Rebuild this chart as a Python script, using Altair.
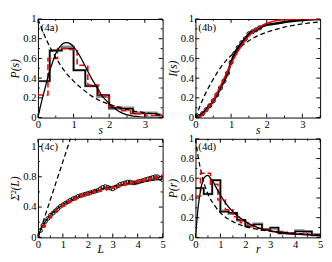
import altair as alt
import pandas as pd

W, H = 129, 102
SERIF = "Liberation Serif"
RED = "#ff0000"
GRAY = "#8c8c8c"

# ---------------- panel (4a): P(s) ----------------
a_curve_s = [0, 0.1, 0.2, 0.3, 0.4, 0.5, 0.6, 0.7, 0.8, 0.9, 1.0, 1.1, 1.2, 1.3, 1.4, 1.5,
             1.6, 1.7, 1.8, 1.9, 2.0, 2.2, 2.4, 2.6, 2.8, 3.0, 3.5]
a_curve_p = [0, 0.16, 0.30, 0.44, 0.55, 0.65, 0.71, 0.75, 0.76, 0.75, 0.72, 0.67, 0.61, 0.54,
             0.47, 0.40, 0.34, 0.28, 0.22, 0.18, 0.14, 0.08, 0.04, 0.02, 0.01, 0.004, 0.0]
a_pois_s = [0, 0.25, 0.5, 0.75, 1.0, 1.25, 1.5, 1.75, 2.0, 2.5, 3.0, 3.5]
a_pois_p = [1.0, 0.78, 0.61, 0.47, 0.37, 0.29, 0.22, 0.17, 0.135, 0.08, 0.05, 0.03]
a_hist_edges = [0, 0.33, 0.67, 1.0, 1.33, 1.67, 2.0, 2.33, 2.67, 3.0, 3.33, 3.5]
a_hist_black = [0.37, 0.68, 0.70, 0.48, 0.32, 0.23, 0.10, 0.09, 0.04, 0.04, 0.02]
a_hist_gray = [0.37, 0.68, 0.72, 0.48, 0.32, 0.21, 0.09, 0.10, 0.05, 0.05, 0.03]
a_red_edges = [0, 0.28, 0.55, 0.83, 1.1, 1.4, 1.7, 2.0, 2.3, 2.6, 3.0, 3.5]
a_hist_red = [0.23, 0.60, 0.70, 0.69, 0.53, 0.33, 0.22, 0.11, 0.07, 0.04, 0.02]

# ---------------- panel (4b): I(s) ----------------
b_curve_s = [0, 0.1, 0.2, 0.3, 0.4, 0.5, 0.6, 0.7, 0.8, 0.9, 1.0, 1.1, 1.2, 1.3, 1.4, 1.5,
             1.6, 1.7, 1.8, 1.9, 2.0, 2.2, 2.4, 2.6, 2.8, 3.0, 3.5]
b_curve_i = [0, 0.008, 0.031, 0.068, 0.118, 0.178, 0.246, 0.319, 0.395, 0.471, 0.544, 0.613,
             0.677, 0.735, 0.785, 0.829, 0.866, 0.897, 0.922, 0.941, 0.957, 0.978, 0.989,
             0.995, 0.998, 0.999, 1.0]
b_pois_s = [0, 0.25, 0.5, 0.75, 1.0, 1.25, 1.5, 1.75, 2.0, 2.5, 3.0, 3.5]
b_pois_i = [0, 0.22, 0.39, 0.53, 0.63, 0.71, 0.78, 0.83, 0.865, 0.918, 0.95, 0.97]
b_data_s = [0, 0.1, 0.2, 0.3, 0.4, 0.5, 0.6, 0.7, 0.8, 0.9, 1.0, 1.1, 1.2, 1.3, 1.4, 1.5,
            1.6, 1.7, 1.8, 2.0, 2.2, 2.5, 3.0, 3.5]
b_data_i = [0, 0.01, 0.04, 0.08, 0.12, 0.17, 0.23, 0.30, 0.37, 0.45, 0.56, 0.65, 0.71, 0.76,
            0.80, 0.85, 0.87, 0.89, 0.91, 0.94, 0.95, 0.97, 0.99, 1.0]
b_n_circles = 19

# ---------------- panel (4c): Sigma^2(L) ----------------
c_pois_L = [0, 1.4]
c_pois_v = [0, 1.4]
c_theory_L = [0, 0.1, 0.2, 0.3, 0.5, 0.75, 1.0, 1.25, 1.5, 2.0, 2.5, 3.0, 3.5, 4.0, 4.5, 5.0]
c_theory_v = [0, 0.09, 0.16, 0.21, 0.29, 0.37, 0.43, 0.48, 0.52, 0.58, 0.63, 0.67, 0.70,
              0.72, 0.75, 0.77]
c_data_L = [round(0.1 * i, 1) for i in range(51)]
c_data_v = [0, 0.09, 0.16, 0.21, 0.25, 0.29, 0.32, 0.35, 0.38, 0.41, 0.43, 0.45, 0.47, 0.49,
            0.51, 0.52, 0.54, 0.55, 0.56, 0.57, 0.58, 0.59, 0.60, 0.61, 0.62, 0.64, 0.66,
            0.67, 0.66, 0.65, 0.64, 0.66, 0.68, 0.70, 0.71, 0.72, 0.73, 0.73, 0.72, 0.72,
            0.73, 0.74, 0.75, 0.76, 0.77, 0.78, 0.79, 0.80, 0.80, 0.78, 0.76]
c_red_L = [0, 0.25, 0.5, 0.75, 1.0, 1.25, 1.5, 1.75, 2.0, 2.25, 2.5, 2.75, 3.0, 3.25, 3.5,
           3.75, 4.0, 4.25, 4.5, 4.75, 5.0]
c_red_v = [0, 0.15, 0.27, 0.35, 0.42, 0.47, 0.51, 0.55, 0.57, 0.60, 0.62, 0.64, 0.66, 0.68,
           0.70, 0.72, 0.74, 0.75, 0.77, 0.79, 0.81]

# ---------------- panel (4d): P(r) ----------------
d_curve_r = [0, 0.05, 0.1, 0.15, 0.2, 0.3, 0.4, 0.5, 0.6, 0.7, 0.8, 1.0, 1.2, 1.5, 2.0, 2.5,
             3.0, 3.5, 4.0, 4.5, 5.0]
d_curve_p = [0, 0.15, 0.29, 0.39, 0.47, 0.58, 0.62, 0.63, 0.60, 0.57, 0.52, 0.43, 0.35, 0.26,
             0.16, 0.10, 0.067, 0.047, 0.033, 0.025, 0.019]
d_pois_r = [0, 0.1, 0.25, 0.5, 0.75, 1.0, 1.5, 2.0, 2.5, 3.0, 4.0, 5.0]
d_pois_p = [1.0, 0.83, 0.64, 0.44, 0.33, 0.25, 0.16, 0.11, 0.082, 0.0625, 0.04, 0.028]
d_hist_edges = [0, 0.33, 0.67, 1.0, 1.33, 1.67, 2.0, 2.33, 2.67, 3.0, 3.33, 3.67, 4.0, 4.33,
                4.67, 5.0]
d_hist_black = [0.50, 0.44, 0.58, 0.26, 0.25, 0.18, 0.11, 0.13, 0.08, 0.10, 0.04, 0.04, 0.06,
                0.06, 0.02]
d_hist_gray = [0.50, 0.44, 0.58, 0.27, 0.24, 0.17, 0.12, 0.14, 0.08, 0.09, 0.05, 0.04, 0.07,
               0.06, 0.03]
d_red_edges = [0, 0.2, 0.6, 0.9, 1.2, 1.5, 1.8, 2.1, 2.4, 2.7, 3.0, 3.5, 4.0, 4.5, 5.0]
d_hist_red = [0.42, 0.65, 0.54, 0.38, 0.28, 0.21, 0.15, 0.11, 0.09, 0.08, 0.06, 0.045, 0.035,
              0.025]


def df(xs, ys):
    return pd.DataFrame({"x": xs, "y": ys})


def steps(edges, vals):
    return df(edges, list(vals) + [vals[-1]])


def panel(xdom, ydom, xmaj, xmin, ymaj, ymin, xtitle, ytitle, tag, items):
    xs = alt.Scale(domain=xdom, nice=False, zero=False)
    ys = alt.Scale(domain=ydom, nice=False, zero=False)
    xaxis = alt.Axis(values=xmaj, format="~g", title=xtitle, titlePadding=-5)
    yaxis = alt.Axis(values=ymaj, format="~g", title=ytitle, titlePadding=1)

    def X():
        return alt.X("x:Q", scale=xs, axis=xaxis)

    def Y():
        return alt.Y("y:Q", scale=ys, axis=yaxis)

    layers = []
    for kind, data, style in items:
        if kind == "line":
            m = alt.Chart(data).mark_line(clip=True, **style)
        else:
            m = alt.Chart(data).mark_point(clip=True, shape="circle", **style)
        layers.append(m.encode(x=X(), y=Y()))

    tx_maj = pd.DataFrame({"x": xmaj})
    tx_min = pd.DataFrame({"x": xmin})
    ty_maj = pd.DataFrame({"y": ymaj})
    ty_min = pd.DataFrame({"y": ymin})
    rule = dict(color="black", strokeWidth=1)
    layers += [
        alt.Chart(tx_maj).mark_rule(**rule).encode(x=X(), y=alt.value(H), y2=alt.value(H - 4)),
        alt.Chart(tx_maj).mark_rule(**rule).encode(x=X(), y=alt.value(0), y2=alt.value(4)),
        alt.Chart(tx_min).mark_rule(**rule).encode(x=X(), y=alt.value(H), y2=alt.value(H - 2)),
        alt.Chart(tx_min).mark_rule(**rule).encode(x=X(), y=alt.value(0), y2=alt.value(2)),
        alt.Chart(ty_maj).mark_rule(**rule).encode(y=Y(), x=alt.value(0), x2=alt.value(4)),
        alt.Chart(ty_maj).mark_rule(**rule).encode(y=Y(), x=alt.value(W), x2=alt.value(W - 4)),
        alt.Chart(ty_min).mark_rule(**rule).encode(y=Y(), x=alt.value(0), x2=alt.value(2)),
        alt.Chart(ty_min).mark_rule(**rule).encode(y=Y(), x=alt.value(W), x2=alt.value(W - 2)),
        alt.Chart(pd.DataFrame({"t": [tag]})).mark_text(
            align="left", baseline="middle", font=SERIF, fontSize=11, color="black"
        ).encode(x=alt.value(3), y=alt.value(9), text="t:N"),
    ]
    return alt.layer(*layers).properties(width=W, height=H)


dash_black = dict(color="black", strokeWidth=1.3, strokeDash=[5, 3], interpolate="monotone")
solid_black = dict(color="black", strokeWidth=1.3, interpolate="monotone")
hist_black = dict(color="black", strokeWidth=1.5, interpolate="step-after")
hist_gray = dict(color=GRAY, strokeWidth=2.5, interpolate="step-after")
hist_red = dict(color=RED, strokeWidth=1.6, strokeDash=[6, 3], interpolate="step-after")

pa = panel(
    [0, 3.5], [0, 1], [0, 1, 2, 3], [0.5, 1.5, 2.5, 3.5],
    [0, 0.2, 0.4, 0.6, 0.8, 1.0], [0.1, 0.3, 0.5, 0.7, 0.9],
    "s", "P(s)", "(4a)",
    [
        ("line", steps(a_hist_edges, a_hist_gray), hist_gray),
        ("line", steps(a_hist_edges, a_hist_black), hist_black),
        ("line", steps(a_red_edges, a_hist_red), hist_red),
        ("line", df(a_curve_s, a_curve_p), solid_black),
        ("line", df(a_pois_s, a_pois_p), dash_black),
    ],
)

pb = panel(
    [0, 3.5], [0, 1], [0, 1, 2, 3], [0.5, 1.5, 2.5, 3.5],
    [0, 0.2, 0.4, 0.6, 0.8, 1.0], [0.1, 0.3, 0.5, 0.7, 0.9],
    "s", "I(s)", "(4b)",
    [
        ("line", df(b_pois_s, b_pois_i), dash_black),
        ("line", df(b_data_s, b_data_i), dict(color="black", strokeWidth=2.5, interpolate="monotone")),
        ("point", df(b_data_s[:b_n_circles], b_data_i[:b_n_circles]),
         dict(color="black", filled=False, size=18, strokeWidth=1, opacity=1)),
        ("line", df(b_curve_s, b_curve_i), dict(color=RED, strokeWidth=1.5, interpolate="monotone")),
    ],
)

pc = panel(
    [0, 5], [0, 1.3], [0, 1, 2, 3, 4, 5], [0.5, 1.5, 2.5, 3.5, 4.5],
    [0, 0.4, 0.8, 1.2], [0.2, 0.6, 1.0],
    "L", "Σ²(L)", "(4c)",
    [
        ("line", df(c_pois_L, c_pois_v), dict(color="black", strokeWidth=1.3, strokeDash=[5, 3])),
        ("line", df(c_theory_L, c_theory_v), solid_black),
        ("point", df(c_data_L, c_data_v),
         dict(color="black", filled=False, size=16, strokeWidth=1, opacity=1)),
        ("point", df(c_red_L, c_red_v),
         dict(color=RED, filled=True, size=16, opacity=1)),
    ],
)

pd_ = panel(
    [0, 5], [0, 1], [0, 1, 2, 3, 4, 5], [0.5, 1.5, 2.5, 3.5, 4.5],
    [0, 0.2, 0.4, 0.6, 0.8, 1.0], [0.1, 0.3, 0.5, 0.7, 0.9],
    "r", "P(r)", "(4d)",
    [
        ("line", steps(d_hist_edges, d_hist_gray), hist_gray),
        ("line", steps(d_hist_edges, d_hist_black), hist_black),
        ("line", steps(d_red_edges, d_hist_red), hist_red),
        ("line", df(d_curve_r, d_curve_p), solid_black),
        ("line", df(d_pois_r, d_pois_p), dash_black),
    ],
)

chart = (
    alt.concat(pa, pb, pc, pd_, columns=2, bounds="flush",
               spacing=alt.RowColnumber(row=22, column=34))
    .properties(padding=0)
    .configure_view(stroke="black", strokeWidth=1)
    .configure_axis(
        grid=False, domain=False, ticks=False, tickSize=0,
        labelFont=SERIF, labelFontSize=11, labelColor="black", labelPadding=1,
        labelFlush=False, labelOverlap=False,
        titleFont=SERIF, titleFontSize=12, titleFontWeight="normal",
        titleFontStyle="italic", titleColor="black",
    )
    .configure_axisY(labelPadding=2)
)

chart.save("out.html", embed_options={"renderer": "svg", "actions": False})
